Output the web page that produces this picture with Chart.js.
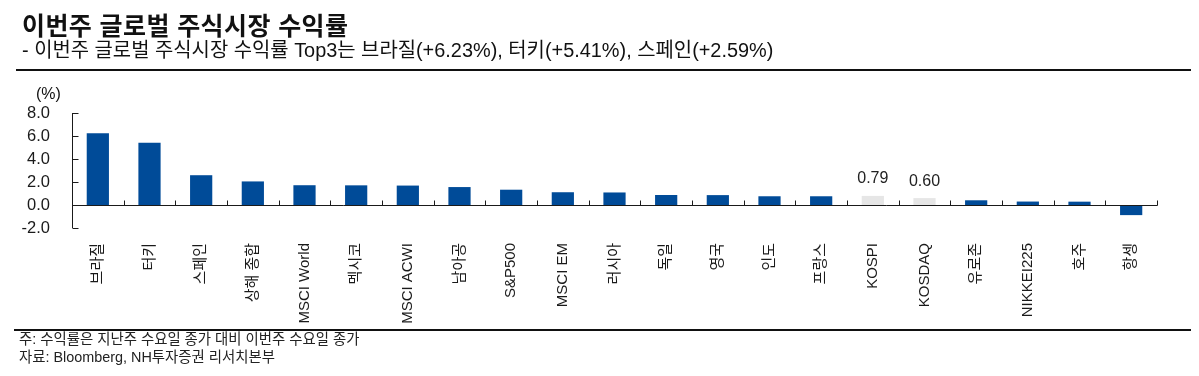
<!DOCTYPE html>
<html lang="ko">
<head>
<meta charset="utf-8">
<script src="https://cdn.jsdelivr.net/npm/chart.js@4/dist/chart.umd.min.js"></script>
<style>
    html, body { margin: 0; padding: 0; background: #fff; }
    body { width: 1199px; height: 376px; position: relative; overflow: hidden; font-family: 'Liberation Sans', 'Noto Sans CJK KR', sans-serif; color: #111; }
    #wrap { position: absolute; left: 0; top: 0; width: 1199px; height: 376px; }
    .title { position: absolute; left: 22px; top: 9px; font-size: 25px; font-weight: bold; line-height: 30px; font-family: 'Noto Sans CJK KR', sans-serif; letter-spacing: 0.4px; }
    .sub { position: absolute; left: 22px; top: 39px; font-size: 19.9px; line-height: 22px; }
    .rule { position: absolute; left: 16px; width: 1175px; height: 2px; background: #111; }
    .unit { position: absolute; left: 36px; top: 85px; font-size: 16px; line-height: 18px; }
    .note { position: absolute; left: 19px; font-size: 14.4px; line-height: 17px; color: #222; }
</style>
</head>
<body>
<div id="wrap"><canvas id="returnChart"></canvas></div>
<div class="title">이번주 글로벌 주식시장 수익률</div>
<div class="sub">- 이번주 글로벌 주식시장 수익률 Top3는 브라질(+6.23%), 터키(+5.41%), 스페인(+2.59%)</div>
<div class="rule" style="top: 69px;"></div>
<div class="unit">(%)</div>
<div class="rule" style="top: 329px; left: 14px; width: 1177px;"></div>
<div class="note" style="top: 331px;">주: 수익률은 지난주 수요일 종가 대비 이번주 수요일 종가</div>
<div class="note" style="top: 349px;">자료: Bloomberg, NH투자증권 리서치본부</div>

<script>
// Weekly returns (%)
const markets = ['브라질', '터키', '스페인', '상해 종합', 'MSCI World', '멕시코', 'MSCI ACWI', '남아공', 'S&P500', 'MSCI EM',
    '러시아', '독일', '영국', '인도', '프랑스', 'KOSPI', 'KOSDAQ', '유로존', 'NIKKEI225', '호주', '항셍'];
const returns = [6.23, 5.41, 2.59, 2.05, 1.72, 1.71, 1.69, 1.56, 1.33, 1.11,
    1.09, 0.87, 0.86, 0.76, 0.76, 0.79, 0.60, 0.41, 0.30, 0.29, -0.88];
const highlighted = ['KOSPI', 'KOSDAQ'];
const yTicks = [-2, 0, 2, 4, 6, 8];

const blue = '#004b98';
const grey = '#e6e6e6';
const ink = '#1a1a1a';

// axes drawn by hand: inward ticks on y, zero line with category ticks
const axisPlugin = {
    id: 'axisPlugin',
    afterDatasetsDraw(chart) {
        const { ctx, chartArea, scales: { x, y } } = chart;
        const y0 = Math.round(y.getPixelForValue(0)) + 0.5;
        const left = Math.round(chartArea.left) + 0.5;
        const right = Math.round(chartArea.right) + 0.5;
        ctx.save();
        ctx.strokeStyle = ink;
        ctx.lineWidth = 1;
        ctx.beginPath();
        // y axis
        ctx.moveTo(left, y.getPixelForValue(yTicks[yTicks.length - 1]));
        ctx.lineTo(left, y.getPixelForValue(yTicks[0]));
        yTicks.forEach(v => {
            const py = Math.round(y.getPixelForValue(v)) + 0.5;
            ctx.moveTo(left, py);
            ctx.lineTo(left + 6, py);
        });
        // zero line
        ctx.moveTo(left, y0);
        ctx.lineTo(right, y0);
        const step = x.getPixelForValue(1) - x.getPixelForValue(0);
        for (let i = 1; i <= markets.length; i++) {
            const px = Math.round(x.getPixelForValue(i - 1) + step / 2) + 0.5;
            ctx.moveTo(px, y0);
            ctx.lineTo(px, y0 - 5);
        }
        ctx.stroke();

        // value labels for highlighted bars
        ctx.fillStyle = '#222';
        ctx.font = "16px 'Liberation Sans', sans-serif";
        ctx.textAlign = 'center';
        ctx.textBaseline = 'bottom';
        const meta = chart.getDatasetMeta(0);
        markets.forEach((m, i) => {
            if (!highlighted.includes(m)) return;
            const bar = meta.data[i];
            ctx.fillText(returns[i].toFixed(2), bar.x, bar.y - 9);
        });
        ctx.restore();
    }
};

new Chart(document.getElementById('returnChart').getContext('2d'), {
    type: 'bar',
    data: {
        labels: markets,
        datasets: [{
            data: returns,
            backgroundColor: markets.map(m => highlighted.includes(m) ? grey : blue),
            borderWidth: 0,
            barPercentage: 0.43,
            categoryPercentage: 1
        }]
    },
    options: {
        responsive: true,
        maintainAspectRatio: false,
        animation: false,
        layout: { padding: { top: 113, right: 42, bottom: 0, left: 0 } },
        plugins: {
            legend: { display: false },
            tooltip: { enabled: false }
        },
        scales: {
            x: {
                grid: { display: false },
                border: { display: false },
                ticks: {
                    autoSkip: false,
                    maxRotation: 90,
                    minRotation: 90,
                    padding: 7,
                    color: ink,
                    font: { family: "'Liberation Sans', 'Noto Sans CJK KR', sans-serif", size: 15 }
                },
                afterFit: s => { s.height = 148; }
            },
            y: {
                min: -2,
                max: 8,
                grid: { display: false },
                border: { display: false },
                afterBuildTicks: s => { s.ticks = yTicks.map(v => ({ value: v })); },
                ticks: {
                    padding: 14,
                    color: ink,
                    font: { family: "'Liberation Sans', sans-serif", size: 16.5 },
                    callback: v => v.toFixed(1)
                },
                afterFit: s => { s.width = 72; }
            }
        }
    },
    plugins: [axisPlugin]
});
</script>
</body>
</html>
